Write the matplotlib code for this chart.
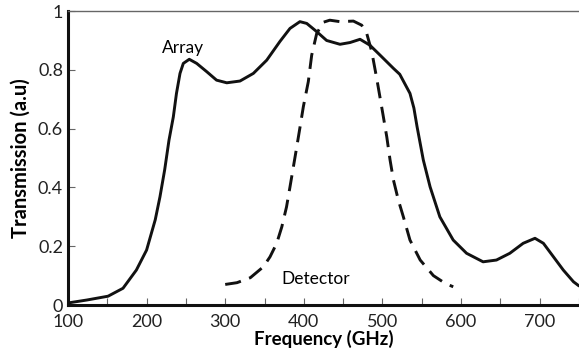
import matplotlib.pyplot as plt
from matplotlib.ticker import MultipleLocator, FuncFormatter

plt.rcParams["font.family"] = ["Lato", "DejaVu Sans"]

# solid curve: array transmission
array_freq = [100, 124, 151, 170, 187, 200, 211, 217, 223, 228.5, 234, 238,
              242.5, 246.7, 254.3, 263.7, 276.4, 289, 302, 318.8, 335.8,
              352.8, 369.7, 382.4, 395, 403.7, 416.4, 429, 446, 458.8, 471.5,
              484, 497, 514, 522, 527, 535, 540, 544, 552, 560.6, 573, 590,
              607, 628, 645, 662, 679, 694, 704.7, 717.5, 730, 743, 750]
array_T = [0.007, 0.017, 0.03, 0.057, 0.119, 0.187, 0.29, 0.368, 0.46, 0.561,
           0.64, 0.72, 0.788, 0.822, 0.836, 0.822, 0.794, 0.765, 0.756, 0.762,
           0.788, 0.833, 0.897, 0.941, 0.964, 0.958, 0.93, 0.90, 0.887, 0.893,
           0.904, 0.884, 0.85, 0.805, 0.785, 0.76, 0.72, 0.67, 0.607, 0.493,
           0.402, 0.30, 0.221, 0.176, 0.147, 0.153, 0.176, 0.21, 0.227, 0.21,
           0.164, 0.119, 0.079, 0.065]

# dashed curve: detector response
det_freq = [300, 315, 332, 348.5, 357, 365.5, 372, 378, 382.4, 386.7, 391,
            395.2, 399.4, 405.7, 410, 416.4, 424.8, 433, 446, 463, 473.6, 480,
            486.4, 492.7, 500.8, 505.5, 509.7, 514, 520.2, 526.6, 535, 548,
            564.8, 579.6, 590]
det_T = [0.070, 0.076, 0.093, 0.13, 0.164, 0.21, 0.266, 0.334, 0.402, 0.47,
         0.538, 0.606, 0.675, 0.76, 0.85, 0.924, 0.962, 0.969, 0.964, 0.966,
         0.952, 0.924, 0.862, 0.771, 0.646, 0.572, 0.493, 0.425, 0.357, 0.30,
         0.221, 0.153, 0.10, 0.074, 0.062]

fig = plt.figure(figsize=(5.79, 3.55), dpi=100)
ax = fig.add_axes([0.1174, 0.1408, 0.8826, 0.828])

ax.plot(array_freq, array_T, color="#111111", lw=2.1,
        solid_joinstyle="round", solid_capstyle="round")
ax.plot(det_freq, det_T, color="#111111", lw=2.1, dashes=(5.5, 3),
        dash_joinstyle="round")

ax.text(246, 0.874, "Array", fontsize=12.5, ha="center", va="center")
ax.text(415, 0.09, "Detector", fontsize=12.5, ha="center", va="center")

ax.set_xlim(100, 750)
ax.set_ylim(0, 1)
ax.xaxis.set_major_locator(MultipleLocator(100))
ax.xaxis.set_minor_locator(MultipleLocator(50))
ax.yaxis.set_major_locator(MultipleLocator(0.2))
ax.yaxis.set_major_formatter(FuncFormatter(lambda v, p: "%g" % round(v, 1)))

ax.tick_params(axis="both", which="both", direction="in", colors="#666666",
               labelcolor="#222222", labelsize=13)
ax.tick_params(axis="both", which="major", length=5, width=0.8)
ax.tick_params(axis="x", which="minor", length=5, width=0.8)
ax.tick_params(axis="x", which="both", pad=6.5)

for s in ["left", "bottom"]:
    ax.spines[s].set_linewidth(2.2)
    ax.spines[s].set_color("#111111")
ax.spines["top"].set_linewidth(1)
ax.spines["top"].set_color("#666666")
ax.spines["right"].set_visible(False)

ax.set_xlabel("Frequency (GHz)", fontsize=13.5, fontweight="bold", labelpad=0)
ax.set_ylabel("Transmission (a.u)", fontsize=14.5, fontweight="bold", labelpad=5)

fig.savefig("out.png", dpi=100)
